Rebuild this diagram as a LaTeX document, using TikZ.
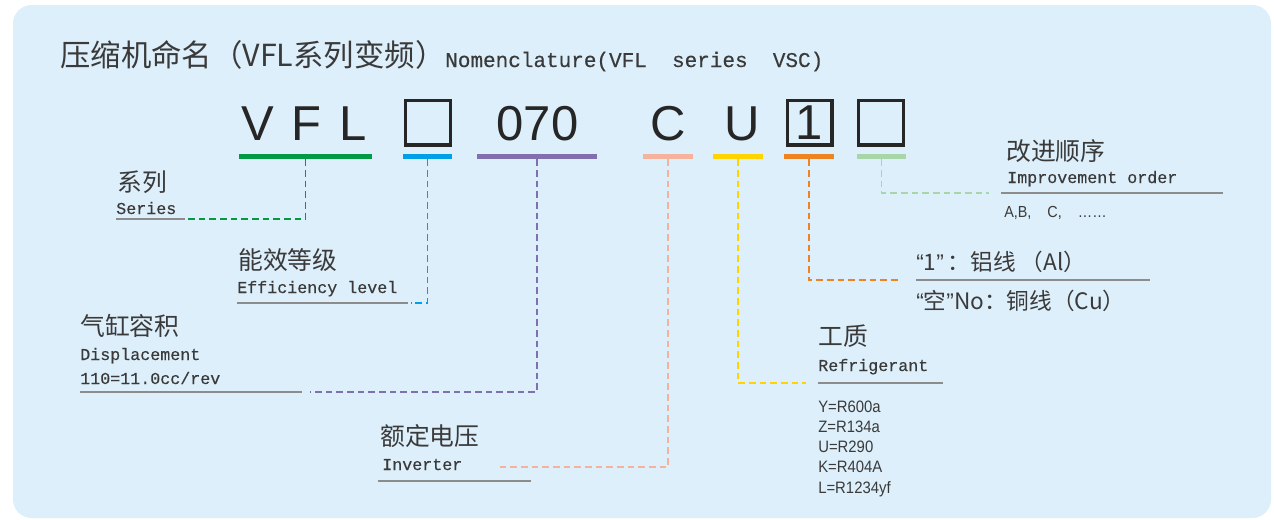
\documentclass[tikz,border=0pt]{standalone}
\usepackage{fontspec}
\setmainfont{Liberation Sans}
\newfontfamily\cjk{Noto Sans CJK SC}
\newfontfamily\monof[FakeBold=0.4]{Liberation Mono}
\newfontfamily\narrowf[FakeStretch=0.9]{Liberation Sans}
\newfontfamily\latq{Liberation Sans}
\definecolor{bgblue}{RGB}{221,239,251}
\definecolor{ink}{RGB}{58,58,58}
\definecolor{cSer}{RGB}{0,154,68}
\definecolor{cEff}{RGB}{0,160,233}
\definecolor{cDis}{RGB}{128,112,176}
\definecolor{cVol}{RGB}{245,178,156}
\definecolor{cRef}{RGB}{255,212,0}
\definecolor{cWire}{RGB}{238,132,33}
\definecolor{cImp}{RGB}{169,214,169}
\begin{document}
\begin{tikzpicture}[x=0.75pt,y=-0.75pt,
  txt/.style={anchor=base west,inner sep=0pt,text=ink},
  title/.style={txt,font=\cjk\fontsize{22.8}{27}\selectfont},
  cnlab/.style={txt,font=\cjk\fontsize{18.6}{22}\selectfont},
  enlab/.style={txt,font=\monof\fontsize{12.5}{15}\selectfont},
  smlab/.style={txt,font=\narrowf\fontsize{12.4}{15}\selectfont},
  code/.style={anchor=base,inner sep=0pt,text=black!85,font=\fontsize{36.75}{40}\selectfont},
  codebox/.style={draw=black!85,line width=2.6pt,minimum size=33.4pt,inner sep=0pt,text=black!85,font=\fontsize{36.75}{40}\selectfont},
  bar/.style={inner sep=0pt,minimum height=3.75pt},
  conn/.style={line width=1.35pt,dash pattern=on 5pt off 3pt},
  uline/.style={draw=black!45,line width=1.3pt}]
\useasboundingbox (0,0) rectangle (1274,519);
\fill[white] (0,0) rectangle (1274,519);
\fill[bgblue,rounded corners=14pt] (13,5) rectangle (1271,518);
% heading
\node[title] (head) at (60,66) {压缩机命名（VFL系列变频）};
\node[txt,font=\monof\fontsize{15.75}{18}\selectfont] (headEn) at (445,67) {Nomenclature(VFL\ \ series\ \ VSC)};
% model code
\node[code] (cV) at (258,140) {V};
\node[code] (cF) at (306,140) {F};
\node[code] (cL) at (353,140) {L};
\node[codebox] (boxEff) at (428,122.5) {};
\node[code] (cDis) at (537.5,140) {070};
\node[code] (cC) at (668.5,140) {C};
\node[code] (cU) at (742.5,140) {U};
\node[codebox] (boxWire) at (809.5,122.5) {1};
\node[codebox] (boxImp) at (881,122.5) {};
% colour bars
\node[bar,fill=cSer,minimum width=99.75pt] (barSer) at (305.5,156.5) {};
\node[bar,fill=cEff,minimum width=36.75pt] (barEff) at (427.5,156.5) {};
\node[bar,fill=cDis,minimum width=90pt] (barDis) at (537,156.5) {};
\node[bar,fill=cVol,minimum width=37.5pt] (barVol) at (668,156.5) {};
\node[bar,fill=cRef,minimum width=37.5pt] (barRef) at (738,156.5) {};
\node[bar,fill=cWire,minimum width=37.5pt] (barWire) at (809,156.5) {};
\node[bar,fill=cImp,minimum width=36.75pt] (barImp) at (881.5,156.5) {};
% series
\node[cnlab] (serCn) at (117,191) {系列};
\node[enlab] (serEn) at (116,214) {Series};
\coordinate (serL) at (116,219);
\coordinate (serR) at (185,219);
\coordinate (serEnd) at (188,219);
% efficiency
\node[cnlab] (effCn) at (238,269) {能效等级};
\node[enlab] (effEn) at (237,293) {Efficiency level};
\coordinate (effL) at (237,303);
\coordinate (effR) at (408,303);
\coordinate (effEnd) at (411,303);
% displacement
\node[cnlab] (disCn) at (80,335) {气缸容积};
\node[enlab] (disEn) at (80,360) {Displacement};
\node[enlab] (disVal) at (80,384) {110=11.0cc/rev};
\coordinate (disL) at (80,392);
\coordinate (disR) at (302,392);
\coordinate (disEnd) at (310,392);
% voltage
\node[cnlab] (volCn) at (380,445) {额定电压};
\node[enlab] (volEn) at (382,470) {Inverter};
\coordinate (volL) at (378,481);
\coordinate (volR) at (531,481);
\coordinate (volEnd) at (497,467);
% refrigerant
\node[cnlab] (refCn) at (818,345) {工质};
\node[enlab] (refEn) at (818,371) {Refrigerant};
\coordinate (refL) at (818,383);
\coordinate (refR) at (943,383);
\coordinate (refEnd) at (806,383);
\node[smlab] (refA) at (818,412) {Y=R600a};
\node[smlab] (refB) at (818,432) {Z=R134a};
\node[smlab] (refC) at (818,452) {U=R290};
\node[smlab] (refD) at (818,472) {K=R404A};
\node[smlab] (refE) at (818,493) {L=R1234yf};
% wire
\node[txt,font=\cjk\fontsize{17}{20}\selectfont] (wireA) at (916,270) {{\latq “}1{\latq ”}\,：铝线 （Al）};
\node[txt,font=\cjk\fontsize{17}{20}\selectfont] (wireB) at (916,309) {{\latq “}空{\latq ”}No：铜线（Cu）};
\coordinate (wireL) at (916,280);
\coordinate (wireR) at (1150,280);
\coordinate (wireEnd) at (901,280);
% improvement
\node[cnlab] (impCn) at (1006,160) {改进顺序};
\node[enlab] (impEn) at (1007,183) {Improvement order};
\node[txt,font=\narrowf\fontsize{12}{14}\selectfont] (impVal) at (1004,217) {A,B,\ \ \ \ C,\ \ \ \ ……};
\coordinate (impL) at (1001,193);
\coordinate (impR) at (1223,193);
\coordinate (impEnd) at (989,193);
% underlines
\draw[uline] (serL) -- (serR);
\draw[uline] (effL) -- (effR);
\draw[uline] (disL) -- (disR);
\draw[uline] (volL) -- (volR);
\draw[uline] (refL) -- (refR);
\draw[uline] (wireL) -- (wireR);
\draw[uline] (impL) -- (impR);
% dashed leaders
\draw[conn,cSer] (barSer.south) |- (serEnd);
\draw[conn,cEff] (barEff.south) |- (effEnd);
\draw[conn,cDis] (barDis.south) |- (disEnd);
\draw[conn,cVol] (barVol.south) |- (volEnd);
\draw[conn,cRef] (barRef.south) |- (refEnd);
\draw[conn,cWire] (barWire.south) |- (wireEnd);
\draw[conn,cImp] (barImp.south) |- (impEnd);
\end{tikzpicture}
\end{document}
